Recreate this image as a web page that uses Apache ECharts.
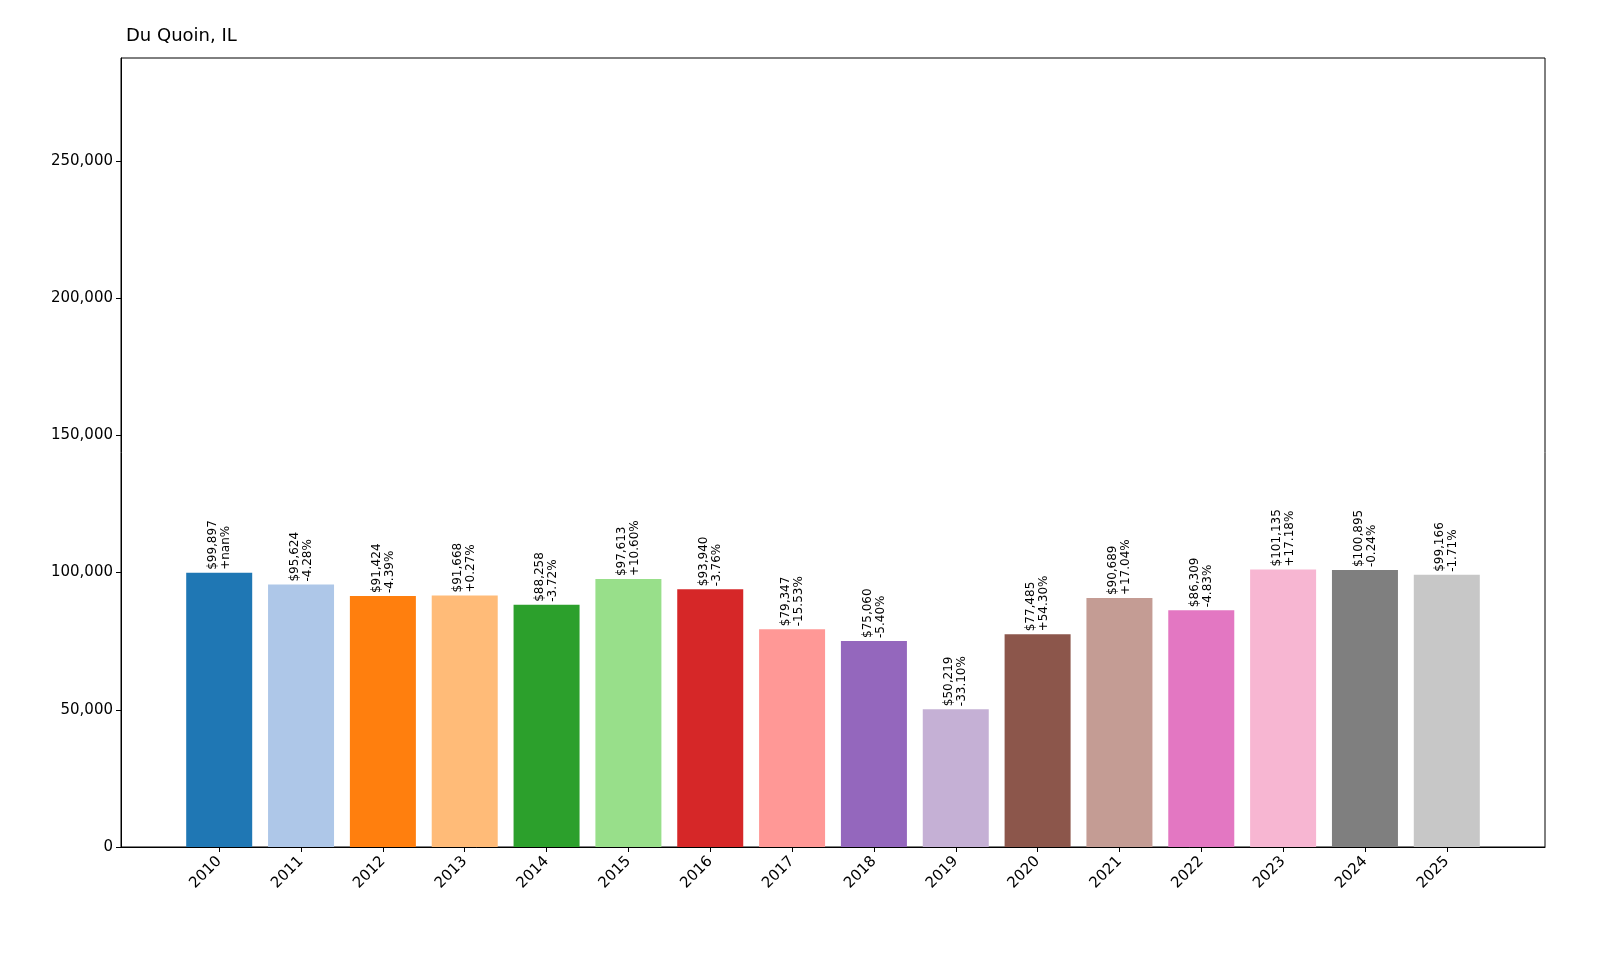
<!DOCTYPE html>
<html>
<head>
<meta charset="utf-8">
<script src="https://cdn.jsdelivr.net/npm/echarts@6/dist/echarts.min.js"></script>
<style>html,body{margin:0;background:#fff}#chart{width:1600px;height:960px}</style>
</head>
<body>
<div id="chart"></div>
<script>
var years = [2010,2011,2012,2013,2014,2015,2016,2017,2018,2019,2020,2021,2022,2023,2024,2025];
var values = [99897, 95624, 91424, 91668, 88258, 97613, 93940, 79347, 75060, 50219, 77485, 90689, 86309, 101135, 100895, 99166];
var changes = ['+nan%','-4.28%','-4.39%','+0.27%','-3.72%','+10.60%','-3.76%','-15.53%','-5.40%','-33.10%','+54.30%','+17.04%','-4.83%','+17.18%','-0.24%','-1.71%'];
var colors = ['#1f77b4','#aec7e8','#ff7f0e','#ffbb78','#2ca02c','#98df8a','#d62728','#ff9896','#9467bd','#c5b0d5','#8c564b','#c49c94','#e377c2','#f7b6d2','#7f7f7f','#c7c7c7'];

var chart = echarts.init(document.getElementById('chart'));
chart.setOption({
  animation: false,
  title: {text: 'Du Quoin, IL', left: 121, top: 22, textStyle: {fontSize: 18, fontWeight: 'normal', color: '#000', fontFamily: 'DejaVu Sans'}},
  grid: {left: 121, right: 55, top: 58, bottom: 113, show: true, borderColor: '#000', borderWidth: 1},
  xAxis: {
    type: 'value', min: 2008.8, max: 2026.2,
    splitLine: {show: false},
    axisLine: {onZero: false, lineStyle: {color: '#000'}},
    axisTick: {customValues: years, lineStyle: {color: '#000'}},
    axisLabel: {customValues: years, rotate: 45, fontSize: 15, color: '#000', fontFamily: 'DejaVu Sans', margin: 12,
      formatter: function (v) { return String(v); }}
  },
  yAxis: {
    type: 'value', min: 0, max: 287500,
    splitLine: {show: false},
    axisLine: {show: true, lineStyle: {color: '#000'}},
    axisTick: {show: true, customValues: [0, 50000, 100000, 150000, 200000, 250000], lineStyle: {color: '#000'}},
    axisLabel: {customValues: [0, 50000, 100000, 150000, 200000, 250000], fontSize: 15, color: '#000', fontFamily: 'DejaVu Sans'}
  },
  series: [{
    type: 'bar', barWidth: 66,
    data: values.map(function (v, i) { return {value: [years[i], v], itemStyle: {color: colors[i]}}; }),
    label: {
      show: true, position: 'top', rotate: 90, align: 'left', verticalAlign: 'middle', distance: 3,
      fontSize: 12, lineHeight: 13, color: '#000', fontFamily: 'DejaVu Sans',
      formatter: function (p) { return '$' + p.value[1].toLocaleString('en-US') + '\n' + changes[p.dataIndex]; }
    }
  }]
});
</script>
</body>
</html>
